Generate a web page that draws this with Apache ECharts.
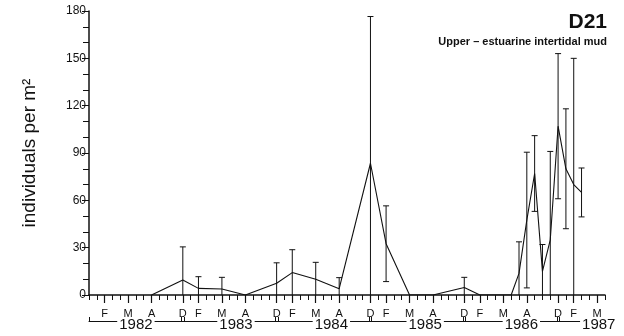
<!DOCTYPE html>
<html>
<head>
<meta charset="utf-8" />
<title>D21</title>
<script type="text/javascript" src="https://cdn.jsdelivr.net/npm/echarts@6/dist/echarts.min.js"></script>
<style type="text/css">
html, body {
	width: 100%;
	height: 100%;
	margin: 0;
	background: #fff;
}
#main {
	width: 624px;
	height: 336px;
}
</style>
</head>
<body>
<div id="main"></div>
<script type="text/javascript">
// month index 0 = start of axis, Dec 1981; labels F M A D
var sampleMonth = [8, 12, 14, 17, 20, 24, 26, 29, 32, 36, 38, 41, 44, 48, 50, 54, 55, 56, 57, 58, 59, 60, 61, 62, 63];
var meanValue   = [0, 9.5, 4.2, 3.8, 0, 7.4, 14.2, 10, 4, 83.5, 32.5, 0, 0, 4.7, 0, 0, 13.7, 47.5, 77, 15, 35, 107, 80, 70, 65];
var errValue    = [0, 21, 7.4, 7.4, 0, 13, 14.5, 10.7, 7, 93, 24, 0, 0, 6.5, 0, 0, 20, 43, 24, 17, 56, 46, 38, 80, 15.5];

var monthTicks = [2, 5, 8, 12, 14, 17, 20, 24, 26, 29, 32, 36, 38, 41, 44, 48, 50, 53, 56, 60, 62, 65];
var monthLetter = {2: 'F', 5: 'M', 8: 'A', 0: 'D'};

var yearNames = ['1982', '1983', '1984', '1985', '1986', '1987'];
var yearCentre = [6, 18.8, 31, 43, 55.3, 65.2];
var yearBounds = [0, 11.85, 12.15, 23.85, 24.15, 35.85, 36.15, 47.85, 48.15, 59.85, 60.15];

var lineData = sampleMonth.map(function (m, i) { return [m, meanValue[i]]; });
var barData = sampleMonth.map(function (m, i) { return [m, meanValue[i], errValue[i]]; })
	.filter(function (d) { return d[2] > 0; });

var ink = '#111';
var font = 'Liberation Sans, Arial, Helvetica, sans-serif';
var chart = echarts.init(document.getElementById('main'), null, {renderer: 'canvas'});

var xBase = {
	type: 'value', min: 0, max: 66, gridIndex: 0,
	splitLine: {show: false}
};

var option = {
	animation: false,
	backgroundColor: '#fff',
	title: [{
		text: 'D21',
		right: 12, top: 7,
		textStyle: {fontFamily: font, fontSize: 21, fontWeight: 'bold', color: ink}
	}, {
		text: 'Upper – estuarine intertidal mud',
		right: 12, top: 31,
		textStyle: {fontFamily: font, fontSize: 11, fontWeight: 'bold', color: ink}
	}],
	grid: {left: 89, right: 19, top: 11, bottom: 41},
	xAxis: [
		// monthly minor ticks
		echarts.util.extend({
			position: 'bottom', interval: 1,
			axisLine: {lineStyle: {color: ink, width: 1.5}},
			axisTick: {length: 5, lineStyle: {color: ink, width: 1}},
			axisLabel: {show: false}
		}, xBase),
		// labelled months
		echarts.util.extend({
			position: 'bottom',
			axisLine: {show: false},
			axisTick: {length: 8, customValues: monthTicks, lineStyle: {color: ink, width: 1.2}},
			axisLabel: {
				customValues: monthTicks, margin: 13,
				fontFamily: font, fontSize: 11, color: ink,
				formatter: function (v) { return monthLetter[Math.round(v) % 12] || ''; }
			}
		}, xBase),
		// year brackets
		echarts.util.extend({
			position: 'bottom', offset: 26,
			axisLine: {lineStyle: {color: ink, width: 1}},
			axisTick: {inside: true, length: 4, customValues: yearBounds, lineStyle: {color: ink, width: 1}},
			axisLabel: {
				customValues: yearCentre, margin: -4,
				fontFamily: font, fontSize: 15, color: ink,
				backgroundColor: '#fff', padding: [0, 2],
				formatter: function (v) {
					var i = yearCentre.indexOf(v);
					return i >= 0 ? yearNames[i] : '';
				}
			}
		}, xBase)
	],
	yAxis: {
		type: 'value', min: 0, max: 180, interval: 30,
		name: 'individuals per m²',
		nameLocation: 'middle', nameGap: 50,
		nameTextStyle: {fontFamily: font, fontSize: 19, color: ink},
		axisLine: {show: true, lineStyle: {color: ink, width: 1.5}},
		axisTick: {length: 7, lineStyle: {color: ink, width: 1}},
		minorTick: {show: true, splitNumber: 3, length: 6, lineStyle: {color: ink, width: 1}},
		splitLine: {show: false},
		axisLabel: {margin: 3, fontFamily: font, fontSize: 12, color: ink}
	},
	series: [{
		type: 'line',
		xAxisIndex: 0,
		data: lineData,
		symbol: 'none',
		lineStyle: {color: ink, width: 1.1},
		z: 3
	}, {
		type: 'custom',
		xAxisIndex: 0,
		data: barData,
		renderItem: function (params, api) {
			var x = api.value(0), m = api.value(1), e = api.value(2);
			var lo = Math.max(0, m - e);
			var top = api.coord([x, m + e]);
			var bot = api.coord([x, lo]);
			var st = {stroke: ink, lineWidth: 1};
			var kids = [
				{type: 'line', shape: {x1: top[0], y1: top[1], x2: bot[0], y2: bot[1]}, style: st},
				{type: 'line', shape: {x1: top[0] - 3, y1: top[1], x2: top[0] + 3, y2: top[1]}, style: st}
			];
			if (m - e > 0) {
				kids.push({type: 'line', shape: {x1: bot[0] - 3, y1: bot[1], x2: bot[0] + 3, y2: bot[1]}, style: st});
			}
			return {type: 'group', children: kids};
		},
		z: 2
	}]
};

chart.setOption(option);
</script>
</body>
</html>
